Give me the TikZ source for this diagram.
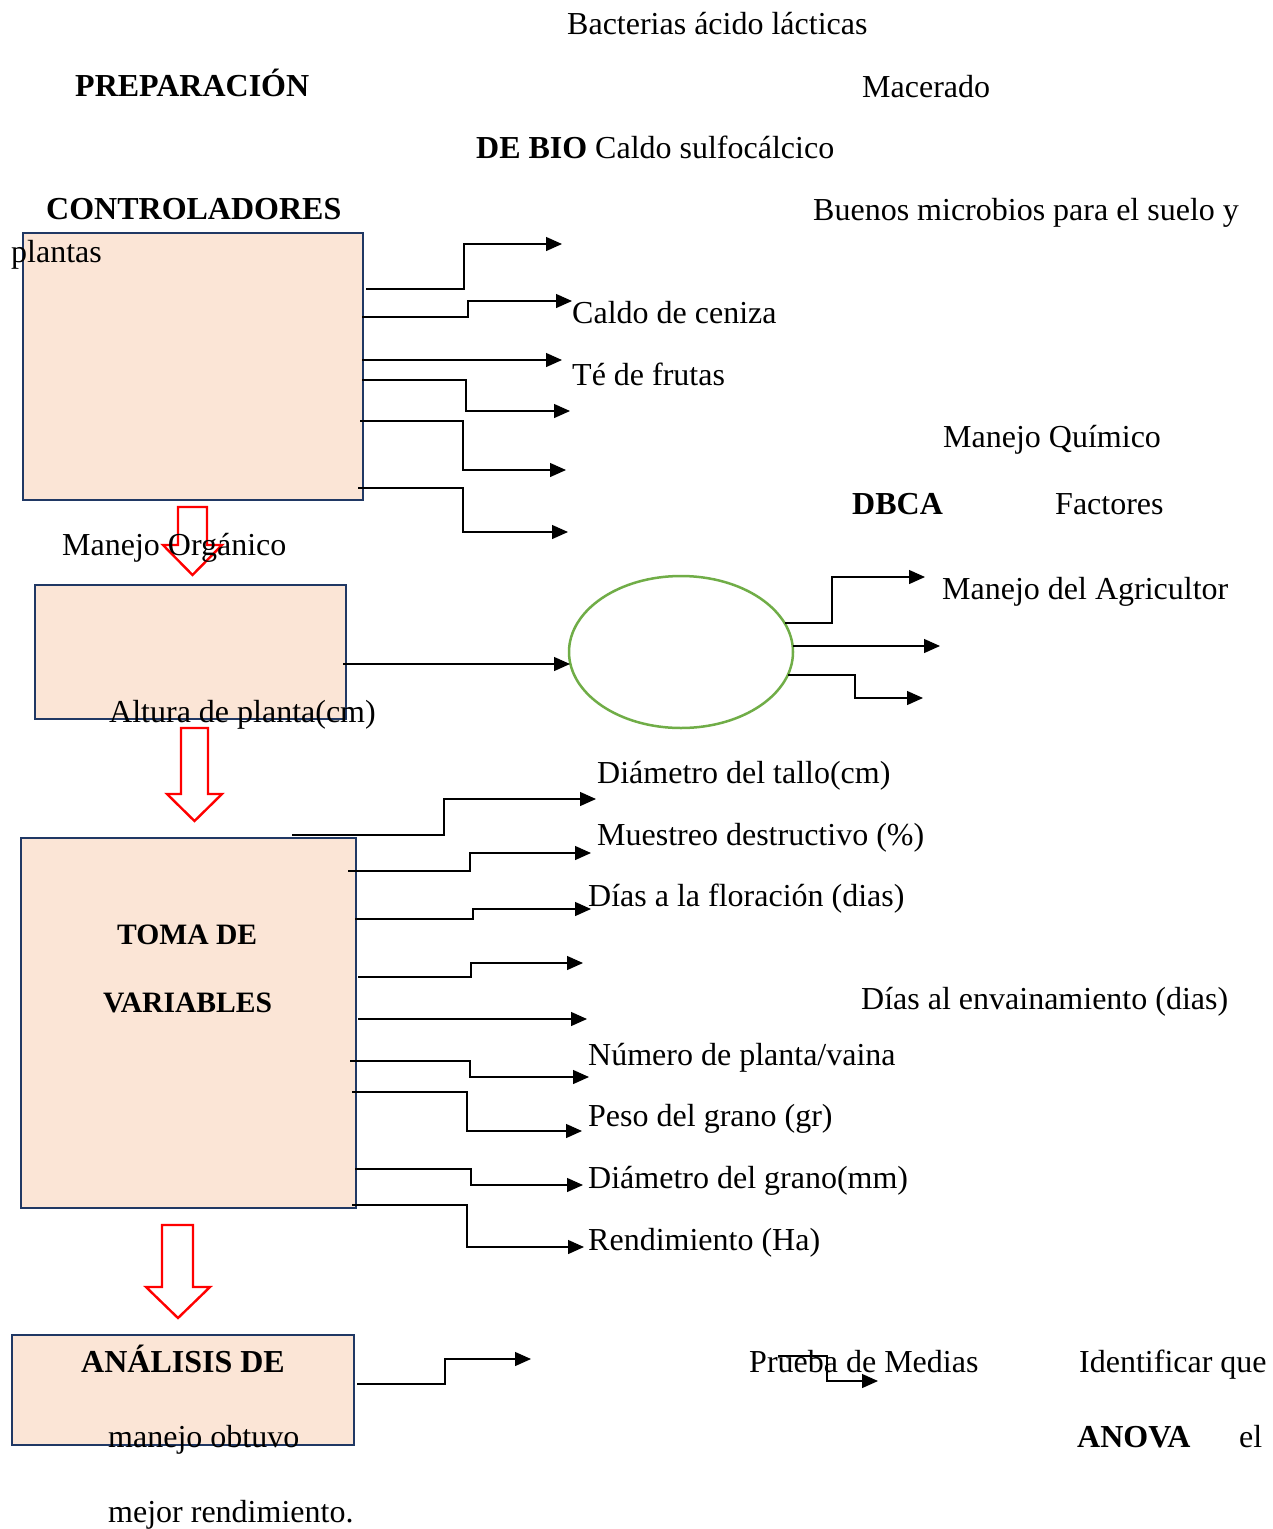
\documentclass[tikz,border=0pt]{standalone}
\usepackage{fontspec}
\setmainfont{Liberation Serif}
\usetikzlibrary{arrows.meta,shapes.geometric}
\definecolor{peach}{HTML}{FBE5D6}
\definecolor{navy}{HTML}{203864}
\definecolor{lgreen}{HTML}{70AD47}
\begin{document}
\begin{tikzpicture}[x=1pt,y=-1pt,
  box/.style={draw=navy, fill=peach, line width=2.4pt, anchor=north west, inner sep=0pt},
  lbl/.style={anchor=base west, inner sep=0pt, font=\fontsize{32}{36}\selectfont},
  blbl/.style={anchor=base west, inner sep=0pt, font=\fontsize{32}{36}\selectfont\bfseries},
  sblbl/.style={anchor=base west, inner sep=0pt, font=\fontsize{29.6}{34}\selectfont\bfseries},
  conn/.style={line width=1.3pt, -{Triangle[length=16pt,width=14pt]}},
  hollow/.style={draw=red, line width=2.4pt, line join=miter}]
\useasboundingbox[fill=white] (0,0) rectangle (1272,1529);

% boxes
\node[box, minimum width=340pt, minimum height=267pt] (b1) at (22,232) {};
\node[box, minimum width=311pt, minimum height=134pt] (b2) at (34,584) {};
\node[box, minimum width=335pt, minimum height=370pt] (b3) at (20,837) {};
\node[box, minimum width=342pt, minimum height=110pt] (b4) at (11,1334) {};
\node[ellipse, draw=lgreen, line width=2.5pt, minimum width=224pt, minimum height=152pt, inner sep=0pt] (el) at (681,652) {};

% connector end points
\coordinate (p1s) at (366,289); \coordinate (p1e) at (562,244);
\coordinate (p2s) at (362,317); \coordinate (p2e) at (572,301);
\coordinate (p3s) at (362,360); \coordinate (p3e) at (562,360);
\coordinate (p4s) at (362,380); \coordinate (p4e) at (570,411);
\coordinate (p5s) at (360,421); \coordinate (p5e) at (566,470);
\coordinate (p6s) at (358,488); \coordinate (p6e) at (568,532);
\coordinate (q0s) at (343,664); \coordinate (q0e) at (570,664);
\coordinate (e1s) at (785,623); \coordinate (e1e) at (925,577);
\coordinate (e2s) at (793,646); \coordinate (e2e) at (940,646);
\coordinate (e3s) at (788,675); \coordinate (e3e) at (923,698);
\coordinate (v1s) at (292,835); \coordinate (v1e) at (596,799);
\coordinate (v2s) at (348,871); \coordinate (v2e) at (591,853);
\coordinate (v3s) at (355,919); \coordinate (v3e) at (591,909);
\coordinate (v4s) at (358,977); \coordinate (v4e) at (583,963);
\coordinate (v5s) at (358,1019); \coordinate (v5e) at (587,1019);
\coordinate (v6s) at (350,1061); \coordinate (v6e) at (589,1077);
\coordinate (v7s) at (352,1092); \coordinate (v7e) at (582,1131);
\coordinate (v8s) at (355,1169); \coordinate (v8e) at (583,1185);
\coordinate (v9s) at (352,1205); \coordinate (v9e) at (584,1247);
\coordinate (a1s) at (357,1384); \coordinate (a1e) at (531,1359);
\coordinate (a2s) at (778,1356); \coordinate (a2e) at (878,1381);

% connectors
\draw[conn] (p1s) -- (464,289) |- (p1e);
\draw[conn] (p2s) -- (468,317) |- (p2e);
\draw[conn] (p3s) -- (p3e);
\draw[conn] (p4s) -- (466,380) |- (p4e);
\draw[conn] (p5s) -- (463,421) |- (p5e);
\draw[conn] (p6s) -- (463,488) |- (p6e);
\draw[conn] (q0s) -- (q0e);
\draw[conn] (e1s) -- (832,623) |- (e1e);
\draw[conn] (e2s) -- (e2e);
\draw[conn] (e3s) -- (855,675) |- (e3e);
\draw[conn] (v1s) -- (444,835) |- (v1e);
\draw[conn] (v2s) -- (470,871) |- (v2e);
\draw[conn] (v3s) -- (473,919) |- (v3e);
\draw[conn] (v4s) -- (471,977) |- (v4e);
\draw[conn] (v5s) -- (v5e);
\draw[conn] (v6s) -- (470,1061) |- (v6e);
\draw[conn] (v7s) -- (467,1092) |- (v7e);
\draw[conn] (v8s) -- (471,1169) |- (v8e);
\draw[conn] (v9s) -- (467,1205) |- (v9e);
\draw[conn] (a1s) -- (445,1384) |- (a1e);
\draw[conn] (a2s) -- (827,1356) |- (a2e);

% red hollow arrows
\draw[hollow] (178,507) -- (207,507) -- (207,545) -- (222,545) -- (192.5,575) -- (163,545) -- (178,545) -- cycle;
\draw[hollow] (181,728) -- (208,728) -- (208,794) -- (222,794) -- (194.5,821) -- (167,794) -- (181,794) -- cycle;
\draw[hollow] (162,1225) -- (193,1225) -- (193,1287) -- (210,1287) -- (178,1318) -- (146,1287) -- (162,1287) -- cycle;

% texts
\node[lbl] (t1) at (567,34) {Bacterias ácido lácticas};
\node[blbl] (t2) at (75,96) {PREPARACIÓN};
\node[lbl] (t3) at (862,97) {Macerado};
\node[blbl] (t4) at (476,158) {DE BIO};
\node[lbl] (t5) at (595,158) {Caldo sulfocálcico};
\node[blbl] (t6) at (46,219) {CONTROLADORES};
\node[lbl] (t7) at (813,220) {Buenos microbios para el suelo y};
\node[lbl] (t8) at (11,262) {plantas};
\node[lbl] (t9) at (572,323) {Caldo de ceniza};
\node[lbl] (t10) at (572,385) {Té de frutas};
\node[lbl] (t11) at (943,447) {Manejo Químico};
\node[blbl] (t12) at (852,514) {DBCA};
\node[lbl] (t13) at (1055,514) {Factores};
\node[lbl] (t14) at (62,555) {Manejo Orgánico};
\node[lbl] (t15) at (942,599) {Manejo del Agricultor};
\node[lbl] (t16) at (109,722) {Altura de planta(cm)};
\node[lbl] (t17) at (597,783) {Diámetro del tallo(cm)};
\node[lbl] (t18) at (597,845) {Muestreo destructivo (\%)};
\node[lbl] (t19) at (588,906) {Días a la floración (dias)};
\node[sblbl] (t20) at (117,944) {TOMA DE};
\node[sblbl] (t21) at (103,1012) {VARIABLES};
\node[lbl] (t22) at (861,1009) {Días al envainamiento (dias)};
\node[lbl] (t23) at (588,1065) {Número de planta/vaina};
\node[lbl] (t24) at (588,1126) {Peso del grano (gr)};
\node[lbl] (t25) at (588,1188) {Diámetro del grano(mm)};
\node[lbl] (t26) at (588,1250) {Rendimiento (Ha)};
\node[blbl] (t27) at (81,1372) {ANÁLISIS DE};
\node[lbl] (t28) at (749,1372) {Prueba de Medias};
\node[lbl] (t29) at (1079,1372) {Identificar que};
\node[lbl] (t30) at (108,1447) {manejo obtuvo};
\node[blbl] (t31) at (1077,1447) {ANOVA};
\node[lbl] (t32) at (1239,1447) {el};
\node[lbl] (t33) at (108,1522) {mejor rendimiento.};
\end{tikzpicture}
\end{document}
